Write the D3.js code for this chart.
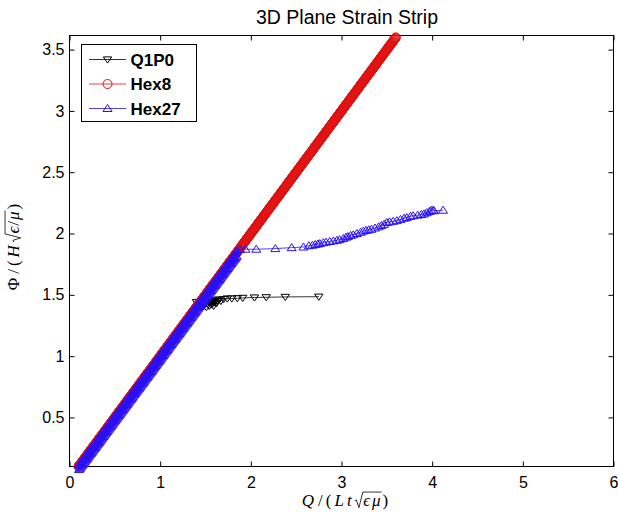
<!DOCTYPE html>
<html>
<head>
<meta charset="utf-8">
<script src="https://cdn.jsdelivr.net/npm/d3@7"></script>
<style>
  body { margin: 0; background: #fff; }
  svg { display: block; }
</style>
</head>
<body>
<div id="chart"></div>
<script>
// tick values
const xTicks = [0, 1, 2, 3, 4, 5, 6];
const yTicks = [0.5, 1, 1.5, 2, 2.5, 3, 3.5];

// Q1P0 (black, down triangles) - straight elastic part, then plateau
const q1p0Q = [0.10, 1.40,
  1.43,1.45,1.47,1.49,1.51,1.52,1.54,1.55,1.56,1.57,1.58,1.59,1.60,1.61,1.62,1.63,1.65,1.67,1.70,1.74,1.79,1.85,1.91,2.04,2.17,2.38,2.75];
const q1p0Phi = [0.10, 1.44,
  1.42,1.40,1.41,1.42,1.40,1.43,1.41,1.44,1.42,1.45,1.43,1.41,1.44,1.46,1.43,1.45,1.46,1.45,1.465,1.47,1.47,1.472,1.475,1.478,1.48,1.483,1.485];

// Hex8 (red, circles) - Phi reads equal to Q over the whole run, very fine load steps
const hex8Q = [
  0.100,0.105,0.110,0.115,0.120,0.125,0.130,0.135,0.140,0.145,0.150,0.155,0.160,0.165,0.170,0.175,0.180,0.185,0.190,0.195,
  0.200,0.205,0.210,0.215,0.220,0.225,0.230,0.235,0.240,0.245,0.250,0.255,0.260,0.265,0.270,0.275,0.280,0.285,0.290,0.295,
  0.300,0.305,0.310,0.315,0.320,0.325,0.330,0.335,0.340,0.345,0.350,0.355,0.360,0.365,0.370,0.375,0.380,0.385,0.390,0.395,
  0.400,0.405,0.410,0.415,0.420,0.425,0.430,0.435,0.440,0.445,0.450,0.455,0.460,0.465,0.470,0.475,0.480,0.485,0.490,0.495,
  0.500,0.505,0.510,0.515,0.520,0.525,0.530,0.535,0.540,0.545,0.550,0.555,0.560,0.565,0.570,0.575,0.580,0.585,0.590,0.595,
  0.600,0.605,0.610,0.615,0.620,0.625,0.630,0.635,0.640,0.645,0.650,0.655,0.660,0.665,0.670,0.675,0.680,0.685,0.690,0.695,
  0.700,0.705,0.710,0.715,0.720,0.725,0.730,0.735,0.740,0.745,0.750,0.755,0.760,0.765,0.770,0.775,0.780,0.785,0.790,0.795,
  0.800,0.805,0.810,0.815,0.820,0.825,0.830,0.835,0.840,0.845,0.850,0.855,0.860,0.865,0.870,0.875,0.880,0.885,0.890,0.895,
  0.900,0.905,0.910,0.915,0.920,0.925,0.930,0.935,0.940,0.945,0.950,0.955,0.960,0.965,0.970,0.975,0.980,0.985,0.990,0.995,
  1.000,1.005,1.010,1.015,1.020,1.025,1.030,1.035,1.040,1.045,1.050,1.055,1.060,1.065,1.070,1.075,1.080,1.085,1.090,1.095,
  1.100,1.105,1.110,1.115,1.120,1.125,1.130,1.135,1.140,1.145,1.150,1.155,1.160,1.165,1.170,1.175,1.180,1.185,1.190,1.195,
  1.200,1.205,1.210,1.215,1.220,1.225,1.230,1.235,1.240,1.245,1.250,1.255,1.260,1.265,1.270,1.275,1.280,1.285,1.290,1.295,
  1.300,1.305,1.310,1.315,1.320,1.325,1.330,1.335,1.340,1.345,1.350,1.355,1.360,1.365,1.370,1.375,1.380,1.385,1.390,1.395,
  1.400,1.405,1.410,1.415,1.420,1.425,1.430,1.435,1.440,1.445,1.450,1.455,1.460,1.465,1.470,1.475,1.480,1.485,1.490,1.495,
  1.500,1.505,1.510,1.515,1.520,1.525,1.530,1.535,1.540,1.545,1.550,1.555,1.560,1.565,1.570,1.575,1.580,1.585,1.590,1.595,
  1.600,1.605,1.610,1.615,1.620,1.625,1.630,1.635,1.640,1.645,1.650,1.655,1.660,1.665,1.670,1.675,1.680,1.685,1.690,1.695,
  1.700,1.705,1.710,1.715,1.720,1.725,1.730,1.735,1.740,1.745,1.750,1.755,1.760,1.765,1.770,1.775,1.780,1.785,1.790,1.795,
  1.800,1.805,1.810,1.815,1.820,1.825,1.830,1.835,1.840,1.845,1.850,1.855,1.860,1.865,1.870,1.875,1.880,1.885,1.890,1.895,
  1.900,1.905,1.910,1.915,1.920,1.925,1.930,1.935,1.940,1.945,1.950,1.955,1.960,1.965,1.970,1.975,1.980,1.985,1.990,1.995,
  2.000,2.005,2.010,2.015,2.020,2.025,2.030,2.035,2.040,2.045,2.050,2.055,2.060,2.065,2.070,2.075,2.080,2.085,2.090,2.095,
  2.100,2.105,2.110,2.115,2.120,2.125,2.130,2.135,2.140,2.145,2.150,2.155,2.160,2.165,2.170,2.175,2.180,2.185,2.190,2.195,
  2.200,2.205,2.210,2.215,2.220,2.225,2.230,2.235,2.240,2.245,2.250,2.255,2.260,2.265,2.270,2.275,2.280,2.285,2.290,2.295,
  2.300,2.305,2.310,2.315,2.320,2.325,2.330,2.335,2.340,2.345,2.350,2.355,2.360,2.365,2.370,2.375,2.380,2.385,2.390,2.395,
  2.400,2.405,2.410,2.415,2.420,2.425,2.430,2.435,2.440,2.445,2.450,2.455,2.460,2.465,2.470,2.475,2.480,2.485,2.490,2.495,
  2.500,2.505,2.510,2.515,2.520,2.525,2.530,2.535,2.540,2.545,2.550,2.555,2.560,2.565,2.570,2.575,2.580,2.585,2.590,2.595,
  2.600,2.605,2.610,2.615,2.620,2.625,2.630,2.635,2.640,2.645,2.650,2.655,2.660,2.665,2.670,2.675,2.680,2.685,2.690,2.695,
  2.700,2.705,2.710,2.715,2.720,2.725,2.730,2.735,2.740,2.745,2.750,2.755,2.760,2.765,2.770,2.775,2.780,2.785,2.790,2.795,
  2.800,2.805,2.810,2.815,2.820,2.825,2.830,2.835,2.840,2.845,2.850,2.855,2.860,2.865,2.870,2.875,2.880,2.885,2.890,2.895,
  2.900,2.905,2.910,2.915,2.920,2.925,2.930,2.935,2.940,2.945,2.950,2.955,2.960,2.965,2.970,2.975,2.980,2.985,2.990,2.995,
  3.000,3.005,3.010,3.015,3.020,3.025,3.030,3.035,3.040,3.045,3.050,3.055,3.060,3.065,3.070,3.075,3.080,3.085,3.090,3.095,
  3.100,3.105,3.110,3.115,3.120,3.125,3.130,3.135,3.140,3.145,3.150,3.155,3.160,3.165,3.170,3.175,3.180,3.185,3.190,3.195,
  3.200,3.205,3.210,3.215,3.220,3.225,3.230,3.235,3.240,3.245,3.250,3.255,3.260,3.265,3.270,3.275,3.280,3.285,3.290,3.295,
  3.300,3.305,3.310,3.315,3.320,3.325,3.330,3.335,3.340,3.345,3.350,3.355,3.360,3.365,3.370,3.375,3.380,3.385,3.390,3.395,
  3.400,3.405,3.410,3.415,3.420,3.425,3.430,3.435,3.440,3.445,3.450,3.455,3.460,3.465,3.470,3.475,3.480,3.485,3.490,3.495,
  3.500,3.505,3.510,3.515,3.520,3.525,3.530,3.535,3.540,3.545,3.550,3.555,3.560,3.565,3.570,3.575,3.580,3.585,3.590,3.595,
  3.600];
const hex8Phi = hex8Q;

// Hex27 (blue, up triangles) - dense elastic part (two interleaved node sets), then slowly rising branch
const hex27Q = [
  0.100,0.105,0.110,0.115,0.120,0.125,0.130,0.135,0.140,0.145,0.150,0.155,0.160,0.165,0.170,0.175,0.180,0.185,0.190,0.195,
  0.200,0.205,0.210,0.215,0.220,0.225,0.230,0.235,0.240,0.245,0.250,0.255,0.260,0.265,0.270,0.275,0.280,0.285,0.290,0.295,
  0.300,0.305,0.310,0.315,0.320,0.325,0.330,0.335,0.340,0.345,0.350,0.355,0.360,0.365,0.370,0.375,0.380,0.385,0.390,0.395,
  0.400,0.405,0.410,0.415,0.420,0.425,0.430,0.435,0.440,0.445,0.450,0.455,0.460,0.465,0.470,0.475,0.480,0.485,0.490,0.495,
  0.500,0.505,0.510,0.515,0.520,0.525,0.530,0.535,0.540,0.545,0.550,0.555,0.560,0.565,0.570,0.575,0.580,0.585,0.590,0.595,
  0.600,0.605,0.610,0.615,0.620,0.625,0.630,0.635,0.640,0.645,0.650,0.655,0.660,0.665,0.670,0.675,0.680,0.685,0.690,0.695,
  0.700,0.705,0.710,0.715,0.720,0.725,0.730,0.735,0.740,0.745,0.750,0.755,0.760,0.765,0.770,0.775,0.780,0.785,0.790,0.795,
  0.800,0.805,0.810,0.815,0.820,0.825,0.830,0.835,0.840,0.845,0.850,0.855,0.860,0.865,0.870,0.875,0.880,0.885,0.890,0.895,
  0.900,0.905,0.910,0.915,0.920,0.925,0.930,0.935,0.940,0.945,0.950,0.955,0.960,0.965,0.970,0.975,0.980,0.985,0.990,0.995,
  1.000,1.005,1.010,1.015,1.020,1.025,1.030,1.035,1.040,1.045,1.050,1.055,1.060,1.065,1.070,1.075,1.080,1.085,1.090,1.095,
  1.100,1.105,1.110,1.115,1.120,1.125,1.130,1.135,1.140,1.145,1.150,1.155,1.160,1.165,1.170,1.175,1.180,1.185,1.190,1.195,
  1.200,1.205,1.210,1.215,1.220,1.225,1.230,1.235,1.240,1.245,1.250,1.255,1.260,1.265,1.270,1.275,1.280,1.285,1.290,1.295,
  1.300,1.305,1.310,1.315,1.320,1.325,1.330,1.335,1.340,1.345,1.350,1.355,1.360,1.365,1.370,1.375,1.380,1.385,1.390,1.395,
  1.400,1.405,1.410,1.415,1.420,1.425,1.430,1.435,1.440,1.445,1.450,1.455,1.460,1.465,1.470,1.475,1.480,1.485,1.490,1.495,
  1.500,1.505,1.510,1.515,1.520,1.525,1.530,1.535,1.540,1.545,1.550,1.555,1.560,1.565,1.570,1.575,1.580,1.585,1.590,1.595,
  1.600,1.605,1.610,1.615,1.620,1.625,1.630,1.635,1.640,1.645,1.650,1.655,1.660,1.665,1.670,1.675,1.680,1.685,1.690,1.695,
  1.700,1.705,1.710,1.715,1.720,1.725,1.730,1.735,1.740,1.745,1.750,1.755,1.760,1.765,1.770,1.775,1.780,1.785,1.790,1.795,
  1.800,1.805,1.810,1.815,1.820,1.825,1.830,1.835,1.840,1.845,1.850,
  1.88,1.94,2.06,2.27,2.45,2.58,2.64,2.68,2.71,2.74,2.76,2.80,2.83,2.87,2.91,2.95,2.98,3.02,3.05,3.07,3.10,3.13,3.17,3.21,3.24,3.27,3.30,3.33,3.37,3.41,
  3.44,3.47,3.50,3.53,3.57,3.61,3.65,3.69,3.72,3.76,3.79,3.84,3.88,3.91,3.94,3.97,3.99,4.01,4.02,4.12];
const hex27Phi = [
  0.110,0.075,0.120,0.085,0.130,0.095,0.140,0.105,0.150,0.115,0.160,0.125,0.170,0.135,0.180,0.145,0.190,0.155,0.200,0.165,
  0.210,0.175,0.220,0.185,0.230,0.195,0.240,0.205,0.250,0.215,0.260,0.225,0.270,0.235,0.280,0.245,0.290,0.255,0.300,0.265,
  0.310,0.275,0.320,0.285,0.330,0.295,0.340,0.305,0.350,0.315,0.360,0.325,0.370,0.335,0.380,0.345,0.390,0.355,0.400,0.365,
  0.410,0.375,0.420,0.385,0.430,0.395,0.440,0.405,0.450,0.415,0.460,0.425,0.470,0.435,0.480,0.445,0.490,0.455,0.500,0.465,
  0.510,0.475,0.520,0.485,0.530,0.495,0.540,0.505,0.550,0.515,0.560,0.525,0.570,0.535,0.580,0.545,0.590,0.555,0.600,0.565,
  0.610,0.575,0.620,0.585,0.630,0.595,0.640,0.605,0.650,0.615,0.660,0.625,0.670,0.635,0.680,0.645,0.690,0.655,0.700,0.665,
  0.710,0.675,0.720,0.685,0.730,0.695,0.740,0.705,0.750,0.715,0.760,0.725,0.770,0.735,0.780,0.745,0.790,0.755,0.800,0.765,
  0.810,0.775,0.820,0.785,0.830,0.795,0.840,0.805,0.850,0.815,0.860,0.825,0.870,0.835,0.880,0.845,0.890,0.855,0.900,0.865,
  0.910,0.875,0.920,0.885,0.930,0.895,0.940,0.905,0.950,0.915,0.960,0.925,0.970,0.935,0.980,0.945,0.990,0.955,1.000,0.965,
  1.010,0.975,1.020,0.985,1.030,0.995,1.040,1.005,1.050,1.015,1.060,1.025,1.070,1.035,1.080,1.045,1.090,1.055,1.100,1.065,
  1.110,1.075,1.120,1.085,1.130,1.095,1.140,1.105,1.150,1.115,1.160,1.125,1.170,1.135,1.180,1.145,1.190,1.155,1.200,1.165,
  1.210,1.175,1.220,1.185,1.230,1.195,1.240,1.205,1.250,1.215,1.260,1.225,1.270,1.235,1.280,1.245,1.290,1.255,1.300,1.265,
  1.310,1.275,1.320,1.285,1.330,1.295,1.340,1.305,1.350,1.315,1.360,1.325,1.370,1.335,1.380,1.345,1.390,1.355,1.400,1.365,
  1.410,1.375,1.420,1.385,1.430,1.395,1.440,1.405,1.450,1.415,1.460,1.425,1.470,1.435,1.480,1.445,1.490,1.455,1.500,1.465,
  1.510,1.475,1.520,1.485,1.530,1.495,1.540,1.505,1.550,1.515,1.560,1.525,1.570,1.535,1.580,1.545,1.590,1.555,1.600,1.565,
  1.610,1.575,1.620,1.585,1.630,1.595,1.640,1.605,1.650,1.615,1.660,1.625,1.670,1.635,1.680,1.645,1.690,1.655,1.700,1.665,
  1.710,1.675,1.720,1.685,1.730,1.695,1.740,1.705,1.750,1.715,1.760,1.725,1.770,1.735,1.780,1.745,1.790,1.755,1.800,1.765,
  1.810,1.775,1.820,1.785,1.830,1.795,1.840,1.805,1.850,1.815,1.860,
  1.87,1.872,1.872,1.877,1.885,1.89,1.90,1.905,1.91,1.915,1.918,1.925,1.93,1.935,1.94,1.945,1.95,1.96,1.97,1.975,1.985,1.99,2.00,2.01,2.02,2.025,2.03,2.035,2.045,2.055,
  2.065,2.075,2.09,2.095,2.10,2.105,2.115,2.125,2.13,2.14,2.145,2.15,2.155,2.16,2.17,2.18,2.19,2.19,2.185,2.19];

const seriesNames = ["Q1P0", "Hex8", "Hex27"];

const width = 619, height = 517;
const plotLeft = 69.5, plotRight = 613.5, plotTop = 35.5, plotBottom = 466.5;

const svg = d3.select("#chart").append("svg")
  .attr("width", width)
  .attr("height", height);

const x = d3.scaleLinear().domain([0, 6]).range([plotLeft, plotRight]);
const y = d3.scaleLinear().domain([0.1, 3.615]).range([plotBottom, plotTop]);

const sansFont = "'Liberation Sans', Arial, sans-serif";
const serifFont = "'Liberation Serif', 'DejaVu Serif', serif";

// axes (ticks inward, matlab style)
function styleAxis(g) {
  g.select(".domain").remove();
  g.selectAll(".tick line").attr("stroke", "#000");
  g.selectAll(".tick text").attr("font-family", sansFont).attr("font-size", 16).attr("fill", "#000");
}
svg.append("g").attr("transform", `translate(0,${plotBottom})`)
  .call(d3.axisBottom(x).tickValues(xTicks).tickSize(-5).tickPadding(10).tickFormat(d3.format("d")))
  .call(styleAxis);
svg.append("g").attr("transform", `translate(0,${plotTop})`)
  .call(d3.axisTop(x).tickValues(xTicks).tickSize(-5).tickFormat(""))
  .call(styleAxis);
svg.append("g").attr("transform", `translate(${plotLeft},0)`)
  .call(d3.axisLeft(y).tickValues(yTicks).tickSize(-5).tickPadding(5).tickFormat(d => d))
  .call(styleAxis);
svg.append("g").attr("transform", `translate(${plotRight},0)`)
  .call(d3.axisRight(y).tickValues(yTicks).tickSize(-5).tickFormat(""))
  .call(styleAxis);

svg.append("rect")
  .attr("x", plotLeft).attr("y", plotTop)
  .attr("width", plotRight - plotLeft).attr("height", plotBottom - plotTop)
  .attr("fill", "none").attr("stroke", "#000").attr("stroke-width", 1);

// markers
const triDown = "M-4.2,-2.6L4.2,-2.6L0,3.6Z";
const triUp = "M0,-4L4.5,3L-4.5,3Z";

const series = [
  { name: seriesNames[0], q: q1p0Q, phi: q1p0Phi, color: "#000", marker: "down" },
  { name: seriesNames[1], q: hex8Q, phi: hex8Phi, color: "#e01010", marker: "circle" },
  { name: seriesNames[2], q: hex27Q, phi: hex27Phi, color: "#2a10f5", marker: "up" }
];

function drawMarker(g, type, color) {
  if (type === "circle") {
    g.append("circle").attr("r", 4.5).attr("fill", "none").attr("stroke", color).attr("stroke-width", 1);
  } else {
    g.append("path").attr("d", type === "up" ? triUp : triDown)
      .attr("fill", "none").attr("stroke", color).attr("stroke-width", 1);
  }
}

const line = d3.line().x(d => x(d[0])).y(d => y(d[1]));

series.forEach(s => {
  const pts = s.q.map((q, i) => [q, s.phi[i]]);
  const g = svg.append("g");
  g.append("path").datum(pts)
    .attr("d", line)
    .attr("fill", "none")
    .attr("stroke", s.color)
    .attr("stroke-width", 0.8);
  g.selectAll("g.pt").data(pts).enter().append("g")
    .attr("class", "pt")
    .attr("transform", d => `translate(${x(d[0])},${y(d[1])})`)
    .each(function () { drawMarker(d3.select(this), s.marker, s.color); });
});

// title
svg.append("text")
  .attr("x", 347).attr("y", 24)
  .attr("text-anchor", "middle")
  .attr("font-family", sansFont)
  .attr("font-size", 19.5)
  .text("3D Plane Strain Strip");

// legend
const legend = svg.append("g");
legend.append("rect")
  .attr("x", 81.5).attr("y", 44.5).attr("width", 115).attr("height", 77)
  .attr("fill", "#fff").attr("stroke", "#000");
series.forEach((s, i) => {
  const ly = 59.5 + i * 24.5;
  legend.append("line").attr("x1", 89).attr("x2", 126).attr("y1", ly).attr("y2", ly)
    .attr("stroke", s.color).attr("stroke-width", 0.8);
  const mg = legend.append("g").attr("transform", `translate(107.5,${ly})`);
  drawMarker(mg, s.marker, s.color);
  legend.append("text").attr("x", 130.5).attr("y", ly).attr("dy", "0.36em")
    .attr("font-family", sansFont).attr("font-weight", "bold").attr("font-size", 17)
    .text(s.name);
});

// math-like axis labels
function mathLabel(g, pieces, fs) {
  const inner = g.append("g");
  let pos = 0;
  pieces.forEach(p => {
    if (p.sqrt) {
      const radStart = pos;
      pos += 0.5 * fs;
      const textStart = pos;
      p.sqrt.forEach(q => {
        const t = inner.append("text").attr("x", pos)
          .attr("font-family", serifFont).attr("font-size", fs)
          .attr("font-style", q.it ? "italic" : "normal").text(q.t);
        pos += t.node().getComputedTextLength() + (q.gap || 0);
      });
      pos += 1;
      inner.append("path")
        .attr("d", `M${radStart},${-0.3 * fs}L${radStart + 0.1 * fs},${-0.36 * fs}L${radStart + 0.25 * fs},${0.1 * fs}L${textStart - 0.02 * fs},${-0.82 * fs}L${pos},${-0.82 * fs}`)
        .attr("fill", "none").attr("stroke", "#000").attr("stroke-width", 0.8);
      pos += 1;
    } else {
      const t = inner.append("text").attr("x", pos)
        .attr("font-family", serifFont).attr("font-size", fs)
        .attr("font-style", p.it ? "italic" : "normal").text(p.t);
      pos += t.node().getComputedTextLength() + (p.gap || 0);
    }
  });
  inner.attr("transform", `translate(${-pos / 2},0)`);
}

const xl = svg.append("g").attr("transform", "translate(345,506)");
mathLabel(xl, [
  { t: "Q", it: true, gap: 4 }, { t: "/", gap: 3 }, { t: "(", gap: 3 },
  { t: "L", it: true, gap: 3 }, { t: "t", it: true, gap: 3 },
  { sqrt: [{ t: "ϵ", it: true, gap: 2 }, { t: "μ", it: true }] }, { t: ")" }
], 17);

const yl = svg.append("g").attr("transform", "translate(19,247) rotate(-90)");
mathLabel(yl, [
  { t: "Φ", gap: 4 }, { t: "/", gap: 3 }, { t: "(", gap: 3 },
  { t: "H", it: true, gap: 3 },
  { sqrt: [{ t: "ϵ", it: true, gap: 1 }, { t: "/", gap: 1 }, { t: "μ", it: true }] }, { t: ")" }
], 17);
</script>
</body>
</html>
